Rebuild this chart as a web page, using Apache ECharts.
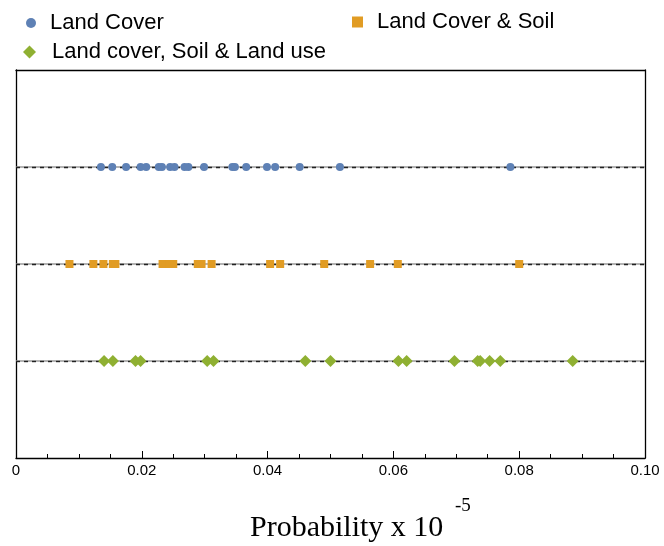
<!DOCTYPE html>
<html>
<head>
<meta charset="utf-8">
<script src="https://cdn.jsdelivr.net/npm/echarts@6/dist/echarts.min.js"></script>
<style>html,body{margin:0;padding:0;background:#fff;}#c{width:664px;height:546px;}</style>
</head>
<body>
<div id="c"></div>
<script>
var seriesNames = ['Land Cover', 'Land Cover & Soil', 'Land cover, Soil & Land use'];
var rowLevels = [3, 2, 1];
var landCover = [0.0135, 0.0153, 0.0175, 0.0198, 0.0207, 0.0227, 0.0232, 0.0245, 0.0252, 0.0268, 0.0274, 0.0299, 0.0344, 0.0348, 0.0366, 0.0399, 0.0412, 0.0451, 0.0515, 0.0786];
var landCoverSoil = [0.0085, 0.0123, 0.0139, 0.0154, 0.0158, 0.0233, 0.0239, 0.0244, 0.0250, 0.0289, 0.0295, 0.0311, 0.0404, 0.0420, 0.0490, 0.0563, 0.0607, 0.0800];
var landCoverSoilUse = [0.0140, 0.0154, 0.0190, 0.0198, 0.0304, 0.0314, 0.0460, 0.0500, 0.0608, 0.0621, 0.0697, 0.0734, 0.0738, 0.0753, 0.0770, 0.0885];
var xTicks = [0, 0.02, 0.04, 0.06, 0.08, 0.10];

var colors = ['#5E81B5', '#E19C24', '#8FB032'];
var symbols = ['circle', 'rect', 'diamond'];
var sizes = [[8, 8], [8, 8], [12, 12]];
var allData = [landCover, landCoverSoil, landCoverSoilUse];

var series = [];
rowLevels.forEach(function (lvl, i) {
  series.push({
    type: 'scatter', data: [], z: 1, silent: true,
    markLine: {
      silent: true, symbol: 'none', label: {show: false}, animation: false,
      data: [
        {yAxis: lvl, lineStyle: {color: '#9a9a9a', width: 1.6, type: 'solid'}},
        {yAxis: lvl, lineStyle: {color: '#222', width: 1.4, type: [4, 4]}}
      ]
    }
  });
});
allData.forEach(function (vals, i) {
  series.push({
    name: seriesNames[i], type: 'scatter', z: 5,
    symbol: symbols[i], symbolSize: sizes[i],
    itemStyle: {color: colors[i], opacity: 1},
    data: vals.map(function (v) { return [v, rowLevels[i]]; })
  });
});

function lt(p) { return {fontFamily: 'Liberation Sans', fontSize: 22, color: '#000', padding: [0, 0, 0, p]}; }
var chart = echarts.init(document.getElementById('c'));
chart.setOption({
  animation: false,
  color: colors,
  legend: [
    {data: [{name: seriesNames[0], icon: 'circle'}], left: 26, top: 12, padding: 0, itemWidth: 10, itemHeight: 10, itemGap: 0, textStyle: lt(9), selectedMode: false},
    {data: [{name: seriesNames[1], icon: 'rect'}], left: 352, top: 11, padding: 0, itemWidth: 11, itemHeight: 11, itemGap: 0, textStyle: lt(9), selectedMode: false},
    {data: [{name: seriesNames[2], icon: 'diamond'}], left: 23, top: 41, padding: 0, itemWidth: 13, itemHeight: 13, itemGap: 0, textStyle: lt(11), selectedMode: false}
  ],
  grid: {left: 16, right: 19, top: 70, bottom: 88, containLabel: false},
  xAxis: [{
    type: 'value', min: xTicks[0], max: xTicks[xTicks.length - 1], interval: 0.02,
    axisLine: {show: true, onZero: false, lineStyle: {color: '#000', width: 1.3}},
    axisTick: {show: true, inside: true, length: 7, lineStyle: {color: '#000', width: 1}},
    minorTick: {show: true, splitNumber: 4, length: 4, lineStyle: {color: '#000', width: 1}},
    splitLine: {show: false},
    axisLabel: {
      fontFamily: 'Liberation Sans', fontSize: 15, color: '#000', margin: 5,
      formatter: function (v) { return v === 0 ? '0' : v.toFixed(2); }
    }
  }, {
    type: 'value', position: 'top', min: 0, max: 0.1,
    axisLine: {show: true, onZero: false, lineStyle: {color: '#000', width: 1.3}},
    axisTick: {show: false}, axisLabel: {show: false}, splitLine: {show: false}
  }],
  yAxis: [{
    type: 'value', min: 0, max: 4, interval: 1,
    axisLine: {show: true, onZero: false, lineStyle: {color: '#000', width: 1.3}},
    axisTick: {show: false}, axisLabel: {show: false}, splitLine: {show: false}
  }, {
    type: 'value', position: 'right', min: 0, max: 4,
    axisLine: {show: true, onZero: false, lineStyle: {color: '#000', width: 1.3}},
    axisTick: {show: false}, axisLabel: {show: false}, splitLine: {show: false}
  }],
  graphic: [
    {type: 'text', left: 250, top: 513, style: {text: 'Probability x 10', font: '30px "Liberation Serif"', fill: '#000'}},
    {type: 'text', left: 455, top: 497, style: {text: '-5', font: '19px "Liberation Serif"', fill: '#000'}}
  ],
  series: series
});
</script>
</body>
</html>
